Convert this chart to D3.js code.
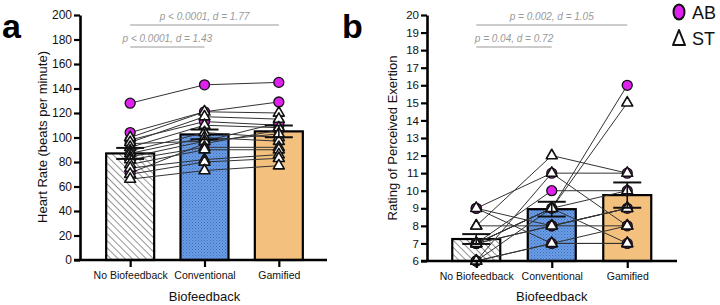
<!DOCTYPE html>
<html><head><meta charset="utf-8">
<script src="https://cdn.jsdelivr.net/npm/d3@7"></script>
<style>body{margin:0;background:#fff;} svg{display:block;font-family:"Liberation Sans",Arial,sans-serif;}</style>
</head><body><svg id="c" width="720" height="305"></svg>
<script>
// ---------- data ----------
const categories = ["No Biofeedback", "Conventional", "Gamified"];
const xTitle = "Biofeedback";
// Heart rate (bpm) per participant: [No Biofeedback, Conventional, Gamified]
const hrAB = [[128,143,145],[104,121,129],[98,113,110],[95,97,112],[71,95,106]];
const hrST = [[100,121,120],[96,117,115],[92,110,108],[89,104,100],[87,100,97],[84,97,103],
              [82,92,92],[78,90,90],[75,82,86],[70,80,83],[66,73,77]];
const hrMean = [87, 102.5, 105];
const hrSem = [4.5, 4, 4.8];
const hrTicks = [0,20,40,60,80,100,120,140,160,180,200];
// RPE per participant
const rpeAB = [[6,9,16],[9,11,11],[7,10,10],[7,8,9],[6,7,7],[9,8,8]];
const rpeST = [[7,9,15],[8,12,11],[9,7,7],[6,11,8],[7,8,9],[6,7,8],[7,9,10],[8,8,9],[7,9,7]];
const rpeMean = [7.25, 8.95, 9.75];
const rpeSem = [0.28, 0.42, 0.72];
const rpeTicks = [6,7,8,9,10,11,12,13,14,15,16,17,18,19,20];
const hrSig = [{from:0,to:2,label:"p < 0.0001, d = 1.77"},{from:0,to:1,label:"p < 0.0001, d = 1.43"}];
const rpeSig = [{from:0,to:2,label:"p = 0.002, d = 1.05"},{from:0,to:1,label:"p = 0.04, d = 0.72"}];

const svg = d3.select("#c");
const defs = svg.append("defs");
const hatch = defs.append("pattern").attr("id","hatch").attr("patternUnits","userSpaceOnUse")
  .attr("width",5).attr("height",5).attr("patternTransform","rotate(-45)");
hatch.append("rect").attr("width",5).attr("height",5).attr("fill","#fff");
hatch.append("line").attr("x1",0).attr("y1",0).attr("x2",0).attr("y2",5).attr("stroke","#666").attr("stroke-width",1.4);
const dots = defs.append("pattern").attr("id","dots").attr("patternUnits","userSpaceOnUse").attr("width",3).attr("height",3);
dots.append("rect").attr("width",3).attr("height",3).attr("fill","#6a9de6");
dots.append("rect").attr("width",1).attr("height",1).attr("fill","#3d6cb8");
dots.append("rect").attr("x",1.5).attr("y",1.5).attr("width",1).attr("height",1).attr("fill","#4a7bc9");
const fills = ["url(#hatch)", "url(#dots)", "#f4c07e"];

function panel(o){
  const g = svg.append("g");
  const x = d3.scalePoint().domain(categories).range(o.xr).padding(0.5);
  const y = d3.scaleLinear().domain(o.yd).range(o.yr);
  const bw = 48;
  // bars
  g.selectAll("rect.bar").data(categories).join("rect")
    .attr("x", d=>x(d)-bw/2).attr("width", bw)
    .attr("y", (d,i)=>y(o.mean[i])).attr("height",(d,i)=>y(o.yd[0])-y(o.mean[i]))
    .attr("fill",(d,i)=>fills[i]).attr("stroke","#000").attr("stroke-width",2.2);
  // lines
  const line = d3.line().x((v,i)=>x(categories[i])).y(v=>y(v));
  const all = o.ab.concat(o.st);
  g.selectAll("path.pl").data(all).join("path").attr("d",line)
    .attr("fill","none").attr("stroke","#333").attr("stroke-width",1);
  // points
  o.ab.forEach(p=>p.forEach((v,i)=>{
    g.append("circle").attr("cx",x(categories[i])).attr("cy",y(v)).attr("r",5)
      .attr("fill","#e020ee").attr("stroke","#111").attr("stroke-width",1.3);
  }));
  const tri = d3.symbol().type(d3.symbolTriangle).size(52);
  o.st.forEach(p=>p.forEach((v,i)=>{
    g.append("path").attr("d",tri()).attr("transform",`translate(${x(categories[i])},${y(v)})`)
      .attr("fill","#fff").attr("stroke","#111").attr("stroke-width",1.6).attr("stroke-linejoin","round");
  }));
  // error bars
  categories.forEach((c,i)=>{
    const cx = x(c), lo = y(o.mean[i]-o.sem[i]), hi = y(o.mean[i]+o.sem[i]);
    g.append("line").attr("x1",cx).attr("x2",cx).attr("y1",lo).attr("y2",hi).attr("stroke","#111").attr("stroke-width",1.6);
    [lo,hi].forEach(yy=>g.append("line").attr("x1",cx-14).attr("x2",cx+14).attr("y1",yy).attr("y2",yy).attr("stroke","#111").attr("stroke-width",2));
  });
  // axes
  const ya = g.append("g").attr("transform",`translate(${o.ax},0)`)
    .call(d3.axisLeft(y).tickValues(o.ticks).tickSize(6).tickSizeOuter(0).tickPadding(2));
  ya.select(".domain").attr("stroke","#000").attr("stroke-width",2.6);
  ya.selectAll(".tick line").attr("stroke","#000").attr("stroke-width",2.2);
  ya.selectAll(".tick text").attr("font-size",o.tf).attr("fill","#111").attr("font-family","Liberation Sans, Arial, sans-serif");
  const xa = g.append("g").attr("transform",`translate(0,${o.yr[0]})`)
    .call(d3.axisBottom(x).tickSize(7).tickSizeOuter(0).tickPadding(5));
  xa.select(".domain").attr("d",`M${o.ax-6},0H${o.xend}`).attr("stroke","#000").attr("stroke-width",2.6);
  xa.selectAll(".tick line").attr("stroke","#000").attr("stroke-width",2.2);
  xa.selectAll(".tick text").attr("font-size",10.5).attr("fill","#111").attr("font-family","Liberation Sans, Arial, sans-serif");
  // titles
  g.append("text").attr("transform",`translate(${o.ytx},${o.yty}) rotate(-90)`).attr("text-anchor","middle")
    .attr("font-size",13).attr("fill","#111").text(o.ytitle);
  g.append("text").attr("x",x(categories[1])).attr("y",301).attr("text-anchor","middle")
    .attr("font-size",13).attr("fill","#111").text(xTitle);
  // significance
  o.sig.forEach((s,k)=>{
    const yy = k===0?25:47;
    const x1 = x(categories[s.from]), x2 = x(categories[s.to]);
    g.append("line").attr("x1",x1).attr("x2",x2).attr("y1",yy).attr("y2",yy).attr("stroke","#999").attr("stroke-width",1);
    g.append("text").attr("x",(x1+x2)/2).attr("y",yy-5).attr("text-anchor","middle").attr("font-size",10)
      .attr("font-style","italic").attr("fill","#999").text(s.label);
  });
  g.append("text").attr("x",o.lx).attr("y",38).attr("font-size",34).attr("font-weight","bold").attr("fill","#000").text(o.letter);
}

panel({xr:[93,316], yd:[0,200], yr:[260,15], ax:80, xend:327, ticks:hrTicks, tf:12,
  ab:hrAB, st:hrST, mean:hrMean, sem:hrSem, ytitle:"Heart Rate (beats per minute)", ytx:47, yty:137,
  sig:hrSig, letter:"a", lx:2});
panel({xr:[438.5,665], yd:[6,20], yr:[261,15], ax:427, xend:677, ticks:rpeTicks, tf:11.5,
  ab:rpeAB, st:rpeST, mean:rpeMean, sem:rpeSem, ytitle:"Rating of Perceived Exertion", ytx:397, yty:138,
  sig:rpeSig, letter:"b", lx:342});

// legend
svg.append("ellipse").attr("cx",679).attr("cy",12).attr("rx",5.5).attr("ry",7.5)
  .attr("fill","#e020ee").attr("stroke","#111").attr("stroke-width",2);
svg.append("text").attr("x",692).attr("y",19).attr("font-size",18).attr("fill","#111").text("AB");
svg.append("path").attr("d","M679,30L685,45L673,45Z").attr("fill","#fff").attr("stroke","#111").attr("stroke-width",2).attr("stroke-linejoin","round");
svg.append("text").attr("x",692).attr("y",45).attr("font-size",18).attr("fill","#111").text("ST");
</script></body></html>
